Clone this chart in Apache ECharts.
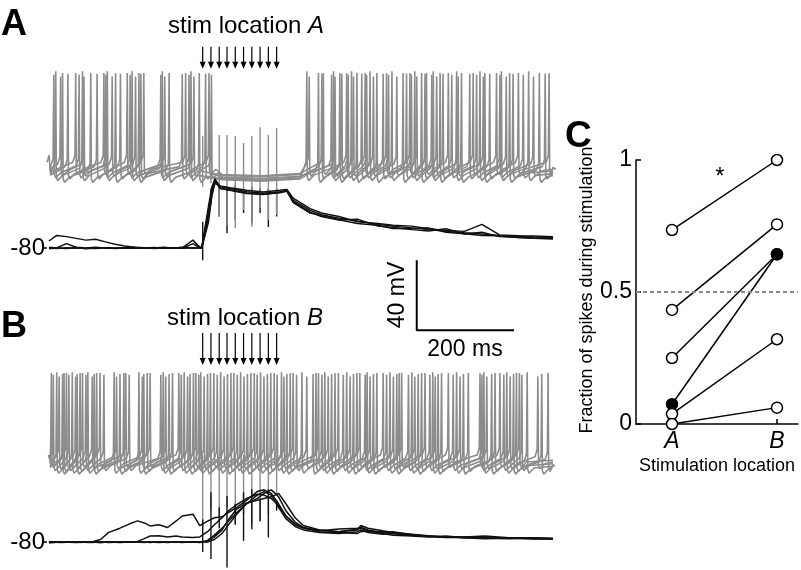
<!DOCTYPE html>
<html>
<head>
<meta charset="utf-8">
<script src="https://cdn.jsdelivr.net/npm/echarts@6/dist/echarts.min.js"></script>
<style>
  html, body { margin: 0; padding: 0; background: #fff; }
  #chart { width: 801px; height: 570px; }
</style>
</head>
<body>
<div id="chart"></div>
<script>
// stimulus pulse times (ms), 10 pulses, same for both stim locations
const stimTimes = [320, 337, 354, 370, 387, 404, 421, 438, 455, 472]

// spike times (ms) of the grey spiking sweeps, all sweeps pooled
const spikesA = [6, 14, 18, 28, 32, 43, 59, 66, 73, 76, 90, 103, 117, 121, 124, 134, 141, 151, 165, 171,
  175, 182, 189, 193, 199, 234, 237, 242, 251, 278, 285, 292, 296, 302, 313, 326, 333, 338,
  534, 539, 558, 565, 568, 585, 589, 592, 602, 606, 616, 619, 626, 630, 637, 647, 654, 657, 664, 671,
  678, 691, 698, 702, 709, 719, 732, 739, 746, 749, 756, 760, 770, 777, 780, 791, 794, 801, 808, 814,
  825, 832, 842, 845, 852, 869, 876, 883, 890, 897, 900, 910, 924, 931, 934, 944, 951, 958, 969,
  979, 990, 1000, 1012, 1024, 1032]
const spikesB = [9, 13, 20, 25, 32, 35, 40, 45, 52, 59, 62, 68, 73, 80, 84, 93, 97, 102, 109, 117,
  138, 143, 150, 158, 162, 169, 189, 196, 199, 206, 212, 234, 239, 244, 251, 258, 271, 276, 282, 289,
  294, 301, 306, 312, 316, 323, 330, 336, 343, 350, 357, 364, 371, 378, 384, 391, 398, 405, 412, 419,
  426, 432, 439, 446, 453, 460, 467, 473, 482, 487, 493, 500, 506, 513, 524, 534, 547, 553, 558, 565,
  571, 578, 585, 592, 599, 609, 616, 623, 630, 637, 643, 654, 658, 664, 671, 678, 691, 698, 705, 712,
  719, 724, 729, 743, 750, 756, 763, 770, 777, 787, 793, 798, 804, 811, 825, 835, 842, 849, 856, 866,
  890, 894, 898, 904, 914, 921, 931, 939, 945, 952, 959, 965, 971, 976, 987, 1009, 1017, 1030]
// resting level / spike peak (mV, display offset) of each grey sweep
const grayBaseA = [-34, -36, -37.5, -35, -38.5, -36.5]
const grayPeakA = [20, 19, 21, 18, 20, 19.5]
// level of each grey sweep while it is silenced by stim A (ms window 350-525)
const grayQuietA = [-38, -39.5, -40.5, -38.5, -41, -39.8]
const grayBaseB = [-33, -35, -36.5, -34, -37, -35.5]
const grayPeakB = [17, 16, 17.5, 15, 16.5, 17]

// black (subthreshold) sweeps, location A
const blackTimeA = [4, 20, 40, 60, 80, 100, 120, 140, 160, 180, 200, 220, 240, 260, 280, 300, 310, 318, 322, 332,
  339, 345, 356, 376, 410, 444, 479, 493, 506, 541, 564, 600, 638, 680, 711, 750, 784, 820, 858, 894,
  930, 970, 1000, 1040]
const blackA0 = [-80, -80.3, -79.8, -80.2, -80, -79.6, -80.2, -80, -79.8, -80.2, -80, -79.7, -80.1, -79.9, -80.2, -79.8, -80, -80, -80, -59,
  -47, -40.5, -45, -46, -47.8, -48.7, -47.8, -47, -52.6, -58.5, -61, -63, -64.5, -66.5, -67.5, -68.5, -69.5, -70.5, -71.3, -72,
  -72.8, -73.3, -73.7, -74]
const blackA1 = [-76, -72.8, -73.5, -74.5, -75.5, -75, -76.5, -77.8, -78.8, -79.5, -79.8, -80, -79.8, -80, -79.5, -75.5, -78.5, -80, -80.2, -62,
  -49, -42, -45.8, -46.8, -48.5, -49.3, -48.5, -47.5, -53.5, -59.5, -62, -64, -63.5, -67.5, -68.3, -69.5, -70.3, -69, -72, -71,
  -73.5, -74, -74.5, -74.8]
const blackA2 = [-79.5, -80, -77.5, -79.6, -80, -80.3, -79.9, -80.2, -79.9, -79.6, -80.2, -80, -79.6, -80.2, -80, -77.5, -79.2, -80.2, -80.2, -65,
  -50, -43, -44.5, -45.5, -47, -48, -47, -46.5, -51.5, -57.5, -60, -62, -65, -66, -67, -67.5, -69, -70, -70.5, -66.5,
  -72.5, -73, -73.2, -73.6]
const blackA3 = [-80.5, -80, -80.3, -79.7, -80.4, -80, -79.8, -80.3, -80, -80.2, -79.8, -80.3, -80, -80.2, -79.6, -80.2, -80, -79.8, -80, -56,
  -45, -41, -46, -47, -48.8, -49.5, -48.2, -47.5, -54, -60, -61.5, -63.8, -66, -67, -68.8, -68.8, -68.5, -71, -71.8, -72.8,
  -73, -74, -74.3, -74.5]

// black sweeps, location B
const blackTimeB = [4, 30, 60, 90, 110, 127, 150, 170, 186, 200, 212, 230, 248, 265, 278, 300, 314, 330, 344, 360,
  373, 390, 410, 432, 446, 461, 476, 491, 510, 527, 560, 600, 638, 645, 660, 690, 711, 750, 784, 820,
  858, 900, 950, 1000, 1040]
const blackB0 = [-80, -80.2, -79.8, -80, -80.2, -80, -79.8, -80.1, -80, -80.2, -79.9, -80, -80.2, -79.8, -80, -80.1, -80, -79, -76, -72,
  -68, -63, -58, -53, -51, -53, -60, -66.5, -71, -73, -74.5, -75, -74, -73, -74.5, -75.5, -75, -76, -76.7, -77,
  -77.3, -77.5, -77.8, -77.8, -78]
const blackB1 = [-80, -80, -79.8, -80, -78.5, -74.4, -72, -69.5, -67.8, -69, -70.7, -70, -71.6, -68, -65, -64, -70.5, -68, -66, -65.5,
  -63, -60, -56, -51, -50, -52, -58, -65, -70, -72, -73, -74, -73, -70.5, -72, -73.5, -74.5, -75.5, -76.5, -77,
  -77, -76.5, -77.5, -77.5, -77.8]
const blackB2 = [-80.3, -80, -80.2, -79.9, -80.2, -80, -80.1, -79.8, -79.6, -78, -76.5, -76.4, -77, -76.5, -77, -77.3, -77, -74, -70, -66,
  -62, -58.5, -55, -52.5, -53, -55, -59, -65, -69.5, -72, -73.5, -72.5, -72, -71.5, -73, -74.5, -74, -75.8, -76.4, -77.2,
  -77.5, -77.4, -77.8, -78, -78.2]
const blackB3 = [-79.8, -80.1, -80, -80.2, -79.9, -80, -80.2, -80, -79.8, -80.1, -80, -80.2, -79.9, -80, -80.2, -79.8, -80, -80, -78.5, -75,
  -70, -64, -58, -55, -52, -50, -54, -62, -68.5, -71.5, -74, -74.5, -75, -74, -73.5, -75, -76, -76.5, -77, -76.5,
  -77.5, -78, -77.5, -78.2, -78]
const blackB4 = [-80.2, -79.9, -80.1, -80, -79.8, -80.2, -80, -79.9, -80.1, -80, -80.2, -79.8, -80, -80.1, -79.9, -80, -80.2, -79.5, -77, -73,
  -67, -61, -57.5, -56, -55, -54, -52, -58, -66, -70.5, -73, -74, -72.5, -72, -74, -74, -75, -76.2, -76.8, -77.3,
  -77, -77.8, -78, -77.6, -78]

// stimulus artifacts: extreme values (mV) per pulse
const artGrayUpA = [-16, -14, -15.4, -15.4, -16, -20, -16, -11, -15.4, -11.4]
const artGrayDownA = [-45, -43, -62, -67, -68.6, -58.3, -67.8, -57, -64, -61]
const artBlackUpA = [-65, -46, -44, -45, -44, -46, -45, -46, -46, -46]
const artBlackDownA = [-87, -55, -62, -71.5, -64, -60, -66, -60, -68, -62]
const artGrayUpB = [-30, -30, -30, -30, -30, -30, -30, -30, -30, -30]
const artGrayDownB = [-72, -62, -68, -60, -70, -64, -70, -68, -64, -53]
const artBlackUpB = [-67, -51.4, -60, -53.5, -58, -51.4, -49.7, -55, -49.7, -56]
const artBlackDownB = [-85.7, -89.7, -72, -94.5, -70, -79.3, -72.6, -68, -77.3, -62]

// scale bar: 40 mV / 200 ms
const scaleBarT = [760, 760, 960]
const scaleBarV = [-87, -127, -127]

// panel C: fraction of spikes during stimulation, paired per cell
const locations = ['A', 'B']
const fracA = [0.735, 0.432, 0.25, 0.075, 0.038, 0]
const fracB = [1.0, 0.756, 0.643, 0.643, 0.321, 0.062]
const filled = [false, false, false, true, false, false]

const FONT = '"Liberation Sans", Arial, Helvetica, sans-serif'
const NARROW = '"Liberation Sans Narrow", "Arial Narrow", "Liberation Sans", sans-serif'
const GRAY = '#8c8c8c'

function spikeTrace (spikes, base, peak, t0, t1, extra) {
  const pts = [[t0, base]]
  spikes.forEach(s => {
    pts.push([s - 6, base + 3], [s - 1.5, base + 7], [s, peak], [s + 1.2, base - 2], [s + 4, base - 4], [s + 14, base - 1])
  })
  pts.push([t1, base])
  if (extra) pts.push(...extra)
  pts.sort((a, b) => a[0] - b[0])
  const out = []
  pts.forEach(p => { if (!out.length || p[0] > out[out.length - 1][0]) out.push(p) })
  return out
}

function zip (t, v) { return t.map((x, i) => [x, v[i]]) }

function graySeries (spikes, bases, peaks, gi, quiet) {
  const n = bases.length
  return bases.map((b, k) => ({
    type: 'line', xAxisIndex: gi, yAxisIndex: gi, symbol: 'none', silent: true,
    lineStyle: { color: GRAY, width: 1.6 },
    data: spikeTrace(spikes.filter((s, i) => i % n === k), b, peaks[k], 6, 1040,
      quiet ? [[360, quiet[k]], [440, quiet[k] - 0.8], [520, quiet[k] + 0.5]] : null)
  }))
}

function blackSeries (times, traces, gi) {
  return traces.map(v => ({
    type: 'line', xAxisIndex: gi, yAxisIndex: gi, symbol: 'none', silent: true,
    lineStyle: { color: '#111', width: 1.5 },
    data: zip(times, v)
  }))
}

function artifactSeries (up, down, color, gi) {
  return {
    type: 'custom', xAxisIndex: gi, yAxisIndex: gi, silent: true,
    data: stimTimes.map((t, i) => [t, up[i], down[i]]),
    encode: { x: 0, y: [1, 2] },
    renderItem (params, api) {
      const p1 = api.coord([api.value(0), api.value(1)])
      const p2 = api.coord([api.value(0), api.value(2)])
      return { type: 'line', shape: { x1: p1[0], y1: p1[1], x2: p2[0], y2: p2[1] }, style: { stroke: color, lineWidth: 1.4 } }
    }
  }
}

function arrowSeries (top, tip, gi) {
  return {
    type: 'custom', xAxisIndex: gi, yAxisIndex: gi, silent: true,
    data: stimTimes.map(t => [t]),
    encode: { x: 0 },
    renderItem (params, api) {
      const a = api.coord([api.value(0), top])
      const b = api.coord([api.value(0), tip])
      return {
        type: 'group',
        children: [
          { type: 'line', shape: { x1: a[0], y1: a[1], x2: b[0], y2: b[1] - 4 }, style: { stroke: '#000', lineWidth: 1.2 } },
          { type: 'polygon', shape: { points: [[b[0] - 3, b[1] - 7], [b[0] + 3, b[1] - 7], [b[0], b[1]]] }, style: { fill: '#000' } }
        ]
      }
    }
  }
}

const traceX = gi => ({ gridIndex: gi, type: 'value', min: 0, max: 1045, show: false })
const traceY = (gi, min, max) => ({
  gridIndex: gi, type: 'value', min, max,
  axisLine: { show: false }, splitLine: { show: false },
  axisTick: { show: true, customValues: [-80], length: 5, lineStyle: { color: '#000', width: 1.5 } },
  axisLabel: { customValues: [-80], fontSize: 24, color: '#000', margin: 2, fontFamily: FONT }
})

const lineC = fracA.map((a, i) => ({
  type: 'line', xAxisIndex: 2, yAxisIndex: 2, symbol: 'none', silent: true,
  lineStyle: { color: '#000', width: 1.5 },
  data: [[0, a], [1, fracB[i]]],
  markLine: i === 0 ? {
    silent: true, symbol: 'none', label: { show: false },
    lineStyle: { color: '#888', type: [4, 3], width: 2 },
    data: [{ yAxis: 0.5 }]
  } : undefined
}))

const dotItems = []
fracA.forEach((a, i) => {
  dotItems.push({ value: [0, a], itemStyle: { color: filled[i] ? '#000' : '#fff', borderColor: '#000', borderWidth: 1.5, opacity: 1 } })
})
fracB.forEach((b, i) => {
  dotItems.push({ value: [1, b], itemStyle: { color: filled[i] ? '#000' : '#fff', borderColor: '#000', borderWidth: 1.5, opacity: 1 } })
})

const chart = echarts.init(document.getElementById('chart'))
chart.setOption({
  animation: false,
  backgroundColor: '#fff',
  textStyle: { fontFamily: FONT },
  grid: [
    { left: 47, top: 38, width: 508.4, height: 297.5 },
    { left: 47, top: 333, width: 508.4, height: 238 },
    { left: 636, top: 160, width: 162, height: 264 }
  ],
  xAxis: [
    traceX(0),
    traceX(1),
    {
      gridIndex: 2, type: 'value', min: -0.343, max: 1.2,
      axisLine: { onZero: false, lineStyle: { color: '#000', width: 1.5 } },
      axisTick: { inside: true, length: 5, customValues: [0, 1], lineStyle: { color: '#000', width: 1.5 } },
      axisLabel: { customValues: [0, 1], formatter: v => locations[v], fontStyle: 'italic', fontSize: 23, color: '#000', margin: 6, fontFamily: FONT },
      splitLine: { show: false },
      name: 'Stimulation location', nameLocation: 'middle', nameGap: 33,
      nameTextStyle: { fontSize: 18, color: '#000', fontFamily: NARROW }
    }
  ],
  yAxis: [
    traceY(0, -130, 40),
    traceY(1, -96, 40),
    {
      gridIndex: 2, type: 'value', min: 0, max: 1, interval: 0.5,
      axisLine: { show: true, onZero: false, lineStyle: { color: '#000', width: 1.5 } },
      axisTick: { inside: true, length: 5, lineStyle: { color: '#000', width: 1.5 } },
      axisLabel: { fontSize: 23, color: '#000', margin: 4, fontFamily: FONT },
      splitLine: { show: false },
      name: 'Fraction of spikes during stimulation', nameLocation: 'middle', nameGap: 32, nameRotate: 90,
      nameTextStyle: { fontSize: 18, color: '#000', fontFamily: NARROW, padding: [0, 0, 0, 4] }
    }
  ],
  series: [
    ...graySeries(spikesA, grayBaseA, grayPeakA, 0, grayQuietA),
    ...blackSeries(blackTimeA, [blackA0, blackA1, blackA2, blackA3], 0),
    artifactSeries(artBlackUpA, artBlackDownA, '#111', 0),
    artifactSeries(artGrayUpA, artGrayDownA, GRAY, 0),
    arrowSeries(35, 22.5, 0),
    {
      type: 'line', xAxisIndex: 0, yAxisIndex: 0, symbol: 'none', silent: true,
      lineStyle: { color: '#000', width: 2 },
      data: zip(scaleBarT, scaleBarV)
    },
    ...graySeries(spikesB, grayBaseB, grayPeakB, 1, null),
    artifactSeries(artGrayUpB, artGrayDownB, GRAY, 1),
    ...blackSeries(blackTimeB, [blackB0, blackB1, blackB2, blackB3, blackB4], 1),
    artifactSeries(artBlackUpB, artBlackDownB, '#111', 1),
    arrowSeries(40, 21.7, 1),
    ...lineC,
    {
      type: 'scatter', xAxisIndex: 2, yAxisIndex: 2, symbol: 'circle', symbolSize: 11, silent: true, z: 5,
      itemStyle: { opacity: 1 },
      data: dotItems
    }
  ],
  graphic: [
    { type: 'text', style: { text: 'A', x: 1, y: 25, font: 'bold 36px ' + FONT, fill: '#000', align: 'left', verticalAlign: 'middle' } },
    { type: 'text', style: { text: 'B', x: 1, y: 327, font: 'bold 36px ' + FONT, fill: '#000', align: 'left', verticalAlign: 'middle' } },
    { type: 'text', style: { text: 'C', x: 565, y: 137, font: 'bold 37px ' + FONT, fill: '#000', align: 'left', verticalAlign: 'middle' } },
    {
      type: 'text',
      style: {
        text: '{n|stim location }{i|A}', x: 246, y: 26, align: 'center', verticalAlign: 'middle',
        rich: { n: { font: '24px ' + FONT, fill: '#000' }, i: { font: 'italic 24px ' + FONT, fill: '#000' } }
      }
    },
    {
      type: 'text',
      style: {
        text: '{n|stim location }{i|B}', x: 245, y: 318, align: 'center', verticalAlign: 'middle',
        rich: { n: { font: '24px ' + FONT, fill: '#000' }, i: { font: 'italic 24px ' + FONT, fill: '#000' } }
      }
    },
    { type: 'text', x: 398, y: 295, rotation: Math.PI / 2, style: { text: '40 mV', x: 0, y: 0, font: '23px ' + FONT, fill: '#000', align: 'center', verticalAlign: 'middle' } },
    { type: 'text', style: { text: '200 ms', x: 465, y: 350, font: '23px ' + FONT, fill: '#000', align: 'center', verticalAlign: 'middle' } },
    { type: 'text', style: { text: '*', x: 720, y: 177, font: '24px ' + FONT, fill: '#000', align: 'center', verticalAlign: 'middle' } }
  ]
})
</script>
</body>
</html>
